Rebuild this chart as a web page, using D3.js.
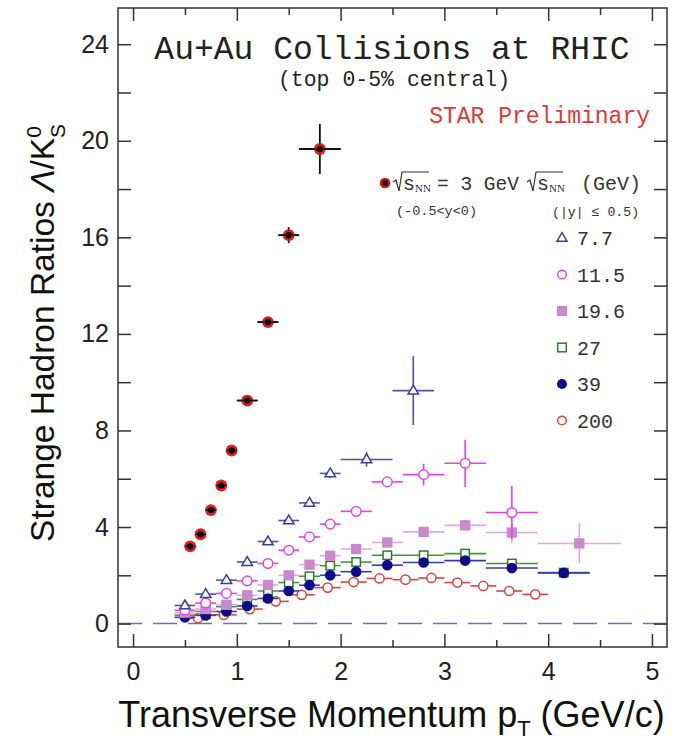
<!DOCTYPE html>
<html><head><meta charset="utf-8">
<script src="https://cdn.jsdelivr.net/npm/d3@7"></script>
<style>
html,body{margin:0;padding:0;background:#fff;}
svg{display:block;}
</style></head>
<body>
<svg id="chart" width="673" height="747"></svg>
<script>
// ---- data (pT, ratio, pT half-width, ratio error) ----
const pt3 = [0.55, 0.65, 0.75, 0.85, 0.95, 1.1, 1.3, 1.5, 1.8];
const val3 = [3.2, 3.7, 4.7, 5.72, 7.17, 9.24, 12.49, 16.09, 19.66];
const xe3 = [0.05, 0.05, 0.05, 0.05, 0.05, 0.1, 0.1, 0.1, 0.2];
const ye3 = [0.1, 0.1, 0.1, 0.1, 0.1, 0.12, 0.15, 0.33, 1.04];

const pt77 = [0.5, 0.7, 0.9, 1.1, 1.3, 1.5, 1.7, 1.9, 2.25, 2.7];
const val77 = [0.75, 1.22, 1.8, 2.55, 3.4, 4.27, 5.0, 6.22, 6.8, 9.65];
const xe77 = [0.1, 0.1, 0.1, 0.1, 0.1, 0.1, 0.1, 0.1, 0.25, 0.2];
const ye77 = [0.05, 0.05, 0.06, 0.08, 0.1, 0.12, 0.15, 0.2, 0.3, 1.43];

const pt115 = [0.5, 0.7, 0.9, 1.1, 1.3, 1.5, 1.7, 1.9, 2.15, 2.45, 2.8, 3.2, 3.65];
const val115 = [0.55, 0.85, 1.25, 1.77, 2.49, 3.04, 3.59, 4.12, 4.65, 5.87, 6.17, 6.64, 4.6];
const xe115 = [0.1, 0.1, 0.1, 0.1, 0.1, 0.1, 0.1, 0.1, 0.15, 0.15, 0.2, 0.2, 0.25];
const ye115 = [0.04, 0.04, 0.05, 0.06, 0.07, 0.08, 0.1, 0.12, 0.15, 0.2, 0.45, 0.98, 1.1];

const pt196 = [0.5, 0.7, 0.9, 1.1, 1.3, 1.5, 1.7, 1.9, 2.15, 2.45, 2.8, 3.2, 3.65, 4.3];
const val196 = [0.45, 0.6, 0.78, 1.17, 1.6, 2.0, 2.44, 2.81, 3.09, 3.36, 3.8, 4.07, 3.77, 3.32];
const xe196 = [0.1, 0.1, 0.1, 0.1, 0.1, 0.1, 0.1, 0.1, 0.15, 0.15, 0.2, 0.2, 0.25, 0.4];
const ye196 = [0.03, 0.03, 0.04, 0.05, 0.05, 0.06, 0.07, 0.08, 0.1, 0.12, 0.15, 0.2, 0.45, 0.83];

const pt27 = [0.5, 0.7, 0.9, 1.1, 1.3, 1.5, 1.7, 1.9, 2.15, 2.45, 2.8, 3.2, 3.65, 4.15];
const val27 = [0.35, 0.5, 0.7, 1.0, 1.35, 1.7, 1.96, 2.4, 2.55, 2.83, 2.83, 2.9, 2.49, 2.11];
const xe27 = [0.1, 0.1, 0.1, 0.1, 0.1, 0.1, 0.1, 0.1, 0.15, 0.15, 0.2, 0.2, 0.25, 0.25];
const ye27 = [0.02, 0.02, 0.03, 0.03, 0.04, 0.04, 0.05, 0.05, 0.06, 0.07, 0.08, 0.1, 0.12, 0.15];

const pt39 = [0.5, 0.7, 0.9, 1.1, 1.3, 1.5, 1.7, 1.9, 2.15, 2.45, 2.8, 3.2, 3.65, 4.15];
const val39 = [0.26, 0.34, 0.5, 0.73, 1.04, 1.35, 1.59, 2.0, 2.15, 2.42, 2.53, 2.61, 2.3, 2.1];
const xe39 = [0.1, 0.1, 0.1, 0.1, 0.1, 0.1, 0.1, 0.1, 0.15, 0.15, 0.2, 0.2, 0.25, 0.25];
const ye39 = [0.02, 0.02, 0.02, 0.03, 0.03, 0.04, 0.04, 0.05, 0.05, 0.06, 0.07, 0.08, 0.1, 0.12];

const pt200 = [0.625, 0.875, 1.125, 1.375, 1.625, 1.875, 2.125, 2.375, 2.625, 2.875, 3.125, 3.375, 3.625, 3.875];
const val200 = [0.22, 0.36, 0.6, 0.92, 1.19, 1.49, 1.72, 1.87, 1.82, 1.89, 1.7, 1.56, 1.35, 1.21];
const xe200 = [0.125, 0.125, 0.125, 0.125, 0.125, 0.125, 0.125, 0.125, 0.125, 0.125, 0.125, 0.125, 0.125, 0.125];
const ye200 = [0.01, 0.01, 0.02, 0.02, 0.03, 0.03, 0.04, 0.04, 0.05, 0.05, 0.06, 0.06, 0.07, 0.08];

const legendLabels = ["7.7", "11.5", "19.6", "27", "39", "200"];
const xTicks = [0, 1, 2, 3, 4, 5];
const xMinorTicks = [0.5, 1.5, 2.5, 3.5, 4.5];
const yTicks = [0, 4, 8, 12, 16, 20, 24];
const yMinorTicks = [2, 6, 10, 14, 18, 22];

// ---- layout ----
const svg = d3.select("#chart");
const L = 118, R = 667, T = 8, B = 647;
const x = d3.scaleLinear().domain([-0.145, 5.145]).range([L, R]);
const y = d3.scaleLinear().domain([-0.97, 25.5]).range([B, T]);

function zip(p, v, xe, ye) { return p.map((d, i) => ({x: d, y: v[i], xe: xe[i], ye: ye[i]})); }

const series = [
  {key: "200", data: zip(pt200, val200, xe200, ye200), shape: "circle", fill: "#fff", stroke: "#d94444", bar: "#d94444", size: 4.6},
  {key: "27", data: zip(pt27, val27, xe27, ye27), shape: "square", fill: "#fff", stroke: "#2f7a2f", bar: "#3c9a3c", size: 4.2},
  {key: "39", data: zip(pt39, val39, xe39, ye39), shape: "circle", fill: "#0b0b8c", stroke: "#0b0b8c", bar: "#3a3aaa", size: 4.6},
  {key: "19.6", data: zip(pt196, val196, xe196, ye196), shape: "square", fill: "#cc88cc", stroke: "#cc88cc", bar: "#ddaadd", size: 4.4},
  {key: "11.5", data: zip(pt115, val115, xe115, ye115), shape: "circle", fill: "#fff", stroke: "#e644e6", bar: "#e644e6", size: 4.8},
  {key: "7.7", data: zip(pt77, val77, xe77, ye77), shape: "triangle", fill: "#fff", stroke: "#3d3d9d", bar: "#5252aa", size: 5.2}
];

// zero line
svg.append("line")
  .attr("x1", L).attr("x2", R).attr("y1", y(0)).attr("y2", y(0))
  .attr("stroke", "#6b6bd0").attr("stroke-width", 1.5).attr("stroke-dasharray", "24,11");

function drawMarker(g, shape, cx, cy, s, fill, stroke) {
  if (shape === "circle") {
    g.append("circle").attr("cx", cx).attr("cy", cy).attr("r", s)
      .attr("fill", fill).attr("stroke", stroke).attr("stroke-width", 1.5);
  } else if (shape === "square") {
    g.append("rect").attr("x", cx - s).attr("y", cy - s).attr("width", 2 * s).attr("height", 2 * s)
      .attr("fill", fill).attr("stroke", stroke).attr("stroke-width", 1.5);
  } else if (shape === "triangle") {
    const h = s * 1.7;
    g.append("path")
      .attr("d", `M${cx},${cy - h * 0.62}L${cx + s},${cy + h * 0.38}L${cx - s},${cy + h * 0.38}Z`)
      .attr("fill", fill).attr("stroke", stroke).attr("stroke-width", 1.5);
  }
}

const plot = svg.append("g");
series.forEach(s => {
  const g = plot.append("g");
  s.data.forEach(d => {
    g.append("line").attr("x1", x(d.x - d.xe)).attr("x2", x(d.x + d.xe))
      .attr("y1", y(d.y)).attr("y2", y(d.y)).attr("stroke", s.bar).attr("stroke-width", 1.6);
    g.append("line").attr("x1", x(d.x)).attr("x2", x(d.x))
      .attr("y1", y(d.y - d.ye)).attr("y2", y(d.y + d.ye)).attr("stroke", s.bar).attr("stroke-width", 1.6);
  });
  s.data.forEach(d => drawMarker(g, s.shape, x(d.x), y(d.y), s.size, s.fill, s.stroke));
});

// 3 GeV
const d3g = plot.append("g");
const data3 = zip(pt3, val3, xe3, ye3);
data3.forEach(d => {
  d3g.append("line").attr("x1", x(d.x - d.xe)).attr("x2", x(d.x + d.xe))
    .attr("y1", y(d.y)).attr("y2", y(d.y)).attr("stroke", "#111").attr("stroke-width", 1.8);
  d3g.append("line").attr("x1", x(d.x)).attr("x2", x(d.x))
    .attr("y1", y(d.y - d.ye)).attr("y2", y(d.y + d.ye)).attr("stroke", "#111").attr("stroke-width", 1.8);
});
data3.forEach(d => {
  d3g.append("circle").attr("cx", x(d.x)).attr("cy", y(d.y)).attr("r", 5.9).attr("fill", "#e81010").attr("opacity", 0.95);
  d3g.append("circle").attr("cx", x(d.x)).attr("cy", y(d.y)).attr("r", 3.2).attr("fill", "#000");
});
data3.forEach(d => {
  d3g.append("line").attr("x1", x(d.x - d.xe)).attr("x2", x(d.x + d.xe))
    .attr("y1", y(d.y)).attr("y2", y(d.y)).attr("stroke", "#111").attr("stroke-width", 1.4).attr("opacity", 0.8);
});

// ---- axes ----
const axisColor = "#333";
function styleAxis(g) {
  g.select(".domain").remove();
  g.selectAll(".tick line").attr("stroke", axisColor).attr("stroke-width", 1.5);
}
svg.append("g").attr("transform", `translate(0,${B})`)
  .call(d3.axisBottom(x).tickValues(xTicks).tickSize(-13).tickPadding(8).tickFormat(d3.format("d")))
  .call(styleAxis)
  .call(g => g.selectAll("text").attr("font-family", "Liberation Sans, Arial, sans-serif").attr("font-size", 25).attr("fill", "#222").attr("dy", "1em"));
svg.append("g").attr("transform", `translate(0,${B})`)
  .call(d3.axisBottom(x).tickValues(xMinorTicks).tickSize(-7).tickFormat(""))
  .call(styleAxis);
svg.append("g").attr("transform", `translate(0,${T})`)
  .call(d3.axisTop(x).tickValues(xTicks).tickSize(-13).tickFormat(""))
  .call(styleAxis);
svg.append("g").attr("transform", `translate(0,${T})`)
  .call(d3.axisTop(x).tickValues(xMinorTicks).tickSize(-7).tickFormat(""))
  .call(styleAxis);

svg.append("g").attr("transform", `translate(${L},0)`)
  .call(d3.axisLeft(y).tickValues(yTicks).tickSize(-13).tickPadding(9).tickFormat(d3.format("d")))
  .call(styleAxis)
  .call(g => g.selectAll("text").attr("font-family", "Liberation Sans, Arial, sans-serif").attr("font-size", 25).attr("fill", "#222"));
svg.append("g").attr("transform", `translate(${L},0)`)
  .call(d3.axisLeft(y).tickValues(yMinorTicks).tickSize(-13).tickFormat(""))
  .call(styleAxis);
svg.append("g").attr("transform", `translate(${R},0)`)
  .call(d3.axisRight(y).tickValues(yTicks.concat(yMinorTicks)).tickSize(-13).tickFormat(""))
  .call(styleAxis);

svg.append("rect").attr("x", L).attr("y", T).attr("width", R - L).attr("height", B - T)
  .attr("fill", "none").attr("stroke", axisColor).attr("stroke-width", 1.5);

// ---- axis titles ----
const sans = "Liberation Sans, Arial, sans-serif";
const xt = svg.append("text").attr("x", (L + R) / 2 - 1).attr("y", 727).attr("text-anchor", "middle")
  .attr("font-family", sans).attr("font-size", 36).attr("fill", "#111");
xt.append("tspan").text("Transverse Momentum p");
xt.append("tspan").attr("font-size", 22).attr("dy", 9).text("T");
xt.append("tspan").attr("dy", -9).text(" (GeV/c)");

const yt = svg.append("text").attr("transform", "translate(54,333) rotate(-90)").attr("text-anchor", "middle")
  .attr("font-family", sans).attr("font-size", 33.5).attr("fill", "#111");
yt.append("tspan").text("Strange Hadron Ratios ");
yt.append("tspan").attr("font-style", "italic").text("Λ");
yt.append("tspan").text("/K");
yt.append("tspan").attr("font-size", 21).attr("dy", -13).text("0");
yt.append("tspan").attr("font-size", 21).attr("dx", -12).attr("dy", 24).text("S");

// ---- annotations ----
const mono = "Liberation Mono, Courier New, monospace";
svg.append("text").attr("x", 392).attr("y", 59).attr("text-anchor", "middle")
  .attr("font-family", mono).attr("font-size", 33).attr("fill", "#222").text("Au+Au Collisions at RHIC");
svg.append("text").attr("x", 394).attr("y", 86).attr("text-anchor", "middle")
  .attr("font-family", mono).attr("font-size", 21.5).attr("fill", "#222").text("(top 0-5% central)");
svg.append("text").attr("x", 650).attr("y", 123).attr("text-anchor", "end")
  .attr("font-family", mono).attr("font-size", 23).attr("fill", "#e03838").text("STAR Preliminary");

// legend header
const lg = svg.append("g");
lg.append("circle").attr("cx", 385).attr("cy", 183).attr("r", 5.3).attr("fill", "#e81010");
lg.append("circle").attr("cx", 385).attr("cy", 183).attr("r", 2.9).attr("fill", "#000");
function sqrtSymbol(g, x0, yb) {
  g.append("path").attr("d", `M${x0},${yb - 8}L${x0 + 3},${yb - 10}L${x0 + 6},${yb + 1}L${x0 + 9},${yb - 18}L${x0 + 36},${yb - 18}`)
    .attr("fill", "none").attr("stroke", "#333").attr("stroke-width", 1.2);
  const t = g.append("text").attr("x", x0 + 10).attr("y", yb).attr("font-family", mono).attr("font-size", 20).attr("fill", "#333");
  t.append("tspan").text("s");
  t.append("tspan").attr("font-size", 11).attr("dy", 2).attr("font-family", "Liberation Serif, serif").text("NN");
}
sqrtSymbol(lg, 393, 190);
lg.append("text").attr("x", 437).attr("y", 190).attr("font-family", mono).attr("font-size", 19.5).attr("fill", "#333").text("= 3 GeV");
sqrtSymbol(lg, 527, 190);
lg.append("text").attr("x", 581).attr("y", 190).attr("font-family", mono).attr("font-size", 20).attr("fill", "#333").text("(GeV)");
lg.append("text").attr("x", 396).attr("y", 215).attr("font-family", mono).attr("font-size", 13.5).attr("fill", "#333").text("(-0.5<y<0)");
lg.append("text").attr("x", 552).attr("y", 216).attr("font-family", mono).attr("font-size", 13.2).attr("fill", "#333").text("(|y| ≤ 0.5)");

legendLabels.forEach((k, i) => {
  const s = series.find(q => q.key === k);
  const yy = 238 + i * 36.5;
  const lsize = s.shape === "triangle" ? 5 : 4.3;
  drawMarker(lg, s.shape, 562, yy, lsize, s.fill, s.stroke);
  lg.append("text").attr("x", 577).attr("y", yy + 7).attr("font-family", mono).attr("font-size", 20).attr("fill", "#333").text(k);
});
</script>
</body></html>
